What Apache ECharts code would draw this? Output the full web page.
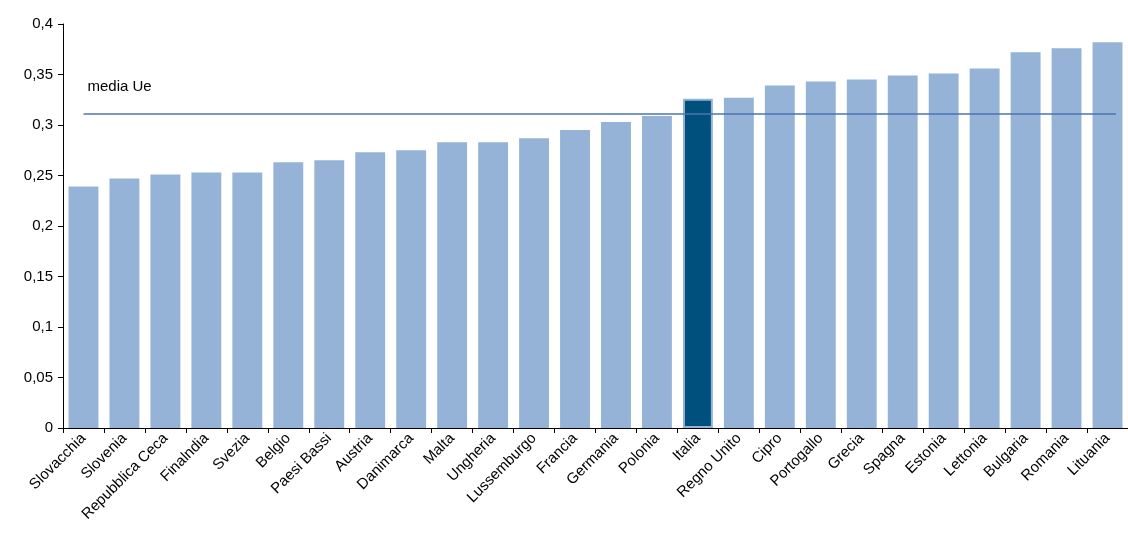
<!DOCTYPE html>
<html>
<head>
<meta charset="utf-8" />
<script src="https://cdn.jsdelivr.net/npm/echarts@6/dist/echarts.min.js"></script>
<style>body{margin:0}</style>
</head>
<body>
<div id="main" style="width:1128px;height:545px;"></div>
<script>
var countries = ['Slovacchia','Slovenia','Repubblica Ceca','Finalndia','Svezia','Belgio','Paesi Bassi','Austria','Danimarca','Malta','Ungheria','Lussemburgo','Francia','Germania','Polonia','Italia','Regno Unito','Cipro','Portogallo','Grecia','Spagna','Estonia','Lettonia','Bulgaria','Romania','Lituania'];
var values = [0.239,0.247,0.251,0.253,0.253,0.263,0.265,0.273,0.275,0.283,0.283,0.287,0.295,0.303,0.309,0.326,0.327,0.339,0.343,0.345,0.349,0.351,0.356,0.372,0.376,0.382];
var euAverage = 0.311;
var highlight = 'Italia';

var chart = echarts.init(document.getElementById('main'));
chart.setOption({
  animation: false,
  grid: {left: 63, right: 0, top: 24, bottom: 117},
  xAxis: {
    type: 'category',
    data: countries,
    axisLine: {lineStyle: {color: '#000'}},
    axisTick: {show: true, alignWithLabel: false, length: 5, lineStyle: {color: '#000'}},
    axisLabel: {rotate: 45, interval: 0, color: '#000', fontFamily: 'Liberation Sans Narrow, Liberation Sans', fontSize: 15, margin: 8}
  },
  yAxis: {
    type: 'value', min: 0, max: 0.4, interval: 0.05,
    splitLine: {show: false},
    axisLine: {show: true, lineStyle: {color: '#000'}},
    axisTick: {show: true, length: 5, lineStyle: {color: '#000'}},
    axisLabel: {color: '#000', fontFamily: 'Liberation Sans', fontSize: 15, margin: 10,
      formatter: function (v) { return String(+v.toFixed(2)).replace('.', ','); }}
  },
  series: [{
    type: 'bar',
    barCategoryGap: '27%',
    data: values.map(function (v, i) {
      return countries[i] === highlight
        ? {value: v, itemStyle: {color: '#00507e', borderColor: '#95b3d7', borderWidth: 2}}
        : {value: v, itemStyle: {color: '#95b3d7'}};
    }),
    markLine: {
      silent: true, symbol: 'none',
      lineStyle: {color: '#4a74b0', width: 1.5, type: 'solid'},
      label: {show: true, position: 'insideStartTop', formatter: 'media Ue', color: '#000',
        fontFamily: 'Liberation Sans', fontSize: 15, distance: [4, 20]},
      data: [[{coord: [0, euAverage]}, {coord: [countries.length - 1, euAverage], x: 1116}]]
    }
  }]
});
</script>
</body>
</html>
